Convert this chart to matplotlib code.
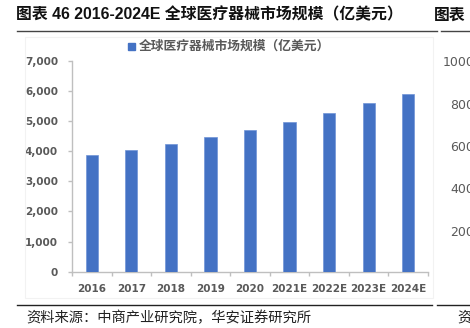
import matplotlib
matplotlib.use("Agg")
import matplotlib.pyplot as plt
from matplotlib.patches import Rectangle
from matplotlib.lines import Line2D
from matplotlib.ticker import FuncFormatter, MultipleLocator
import numpy as np

# 全球医疗器械市场规模（亿美元）
years = ["2016", "2017", "2018", "2019", "2020", "2021E", "2022E", "2023E", "2024E"]
market_size = [3860, 4030, 4230, 4460, 4700, 4980, 5270, 5590, 5890]

title = "图表 46 2016-2024E 全球医疗器械市场规模（亿美元）"
legend_label = "全球医疗器械市场规模（亿美元）"
source = "资料来源：中商产业研究院，华安证券研究所"
# 右侧相邻图表露出的部分
next_ticks = ["1000", "800", "600", "400", "200"]

BLUE = "#4472C4"
GRAY = "#595959"
AXIS = "#BFBFBF"
CJK = ["Liberation Sans", "Noto Sans CJK SC"]

W, H = 470, 328
fig = plt.figure(figsize=(W / 100, H / 100), dpi=100)


def fx(px):
    return px / W


def fy(py):
    return 1 - py / H


# 图表区淡边框
fig.add_artist(Rectangle((fx(25), fy(298)), fx(433) - fx(25), fy(37) - fy(298),
                         transform=fig.transFigure, fill=False, ec="#F2F2F2", lw=0.8))

ax = fig.add_axes([fx(72), fy(271.8), fx(428) - fx(72), fy(60.7) - fy(271.8)])
x = np.arange(len(years))
ax.bar(x, market_size, width=0.31, color=BLUE, edgecolor="#6F93D6", linewidth=0.5, zorder=3)

ax.set_xlim(-0.5, len(years) - 0.5)
ax.set_ylim(0, 7000)
ax.yaxis.set_major_locator(MultipleLocator(1000))
ax.yaxis.set_major_formatter(FuncFormatter(lambda v, p: f"{int(v):,}"))
ax.set_xticks(x)
ax.set_xticklabels(years)
ax.set_xticks(np.arange(-0.5, len(years)), minor=True)

for s in ["top", "right"]:
    ax.spines[s].set_visible(False)
ax.spines["left"].set_color(AXIS)
ax.spines["bottom"].set_color(AXIS)
ax.spines["left"].set_linewidth(1.0)
ax.spines["bottom"].set_linewidth(1.0)

ax.tick_params(axis="y", length=3, width=1.0, color=AXIS, pad=7, labelsize=7.5, labelcolor=GRAY)
ax.tick_params(axis="x", which="major", length=0, pad=9, labelsize=7.5, labelcolor=GRAY)
ax.tick_params(axis="x", which="minor", length=3, width=1.0, color=AXIS)
for lab in ax.get_xticklabels() + ax.get_yticklabels():
    lab.set_fontweight("bold")

# 图例
fig.add_artist(Rectangle((fx(128), fy(49.5)), fx(7), fy(43) - fy(49.5),
                         transform=fig.transFigure, color=BLUE))
fig.text(fx(139), fy(46.5), legend_label, fontsize=9.2, fontweight="bold", color=GRAY,
         family=["Noto Sans CJK SC"], va="center", ha="left")

# 标题与分隔线
fig.text(fx(16), fy(15), title, fontsize=11.4, fontweight="bold", color="#111111",
         family=CJK, va="center", ha="left")
fig.text(fx(434), fy(15), "图表", fontsize=11.4, fontweight="bold", color="#111111",
         family=CJK, va="center", ha="left")
fig.add_artist(Line2D([fx(17), fx(437)], [fy(31), fy(31)], color="#444444", lw=1.0))
fig.add_artist(Line2D([fx(441), fx(470)], [fy(31), fy(31)], color="#444444", lw=1.0))
fig.add_artist(Line2D([fx(17), fx(432)], [fy(305), fy(305)], color="#222222", lw=1.0))
fig.add_artist(Line2D([fx(437), fx(470)], [fy(305), fy(305)], color="#222222", lw=1.0))

fig.text(fx(26), fy(317.5), source, fontsize=10.3, color="#222222",
         family=["Noto Sans CJK SC"], va="center", ha="left")
fig.text(fx(457), fy(317.5), "资", fontsize=10.3, color="#222222",
         family=["Noto Sans CJK SC"], va="center", ha="left")

# 右侧图表的纵轴刻度（被画面右缘截断）
for i, t in enumerate(next_ticks):
    fig.text(fx(443) if len(t) == 4 else fx(450), fy(62.7 + 42.4 * i), t,
             fontsize=9, color=GRAY, va="center", ha="left")

fig.savefig("out.png", dpi=100)
